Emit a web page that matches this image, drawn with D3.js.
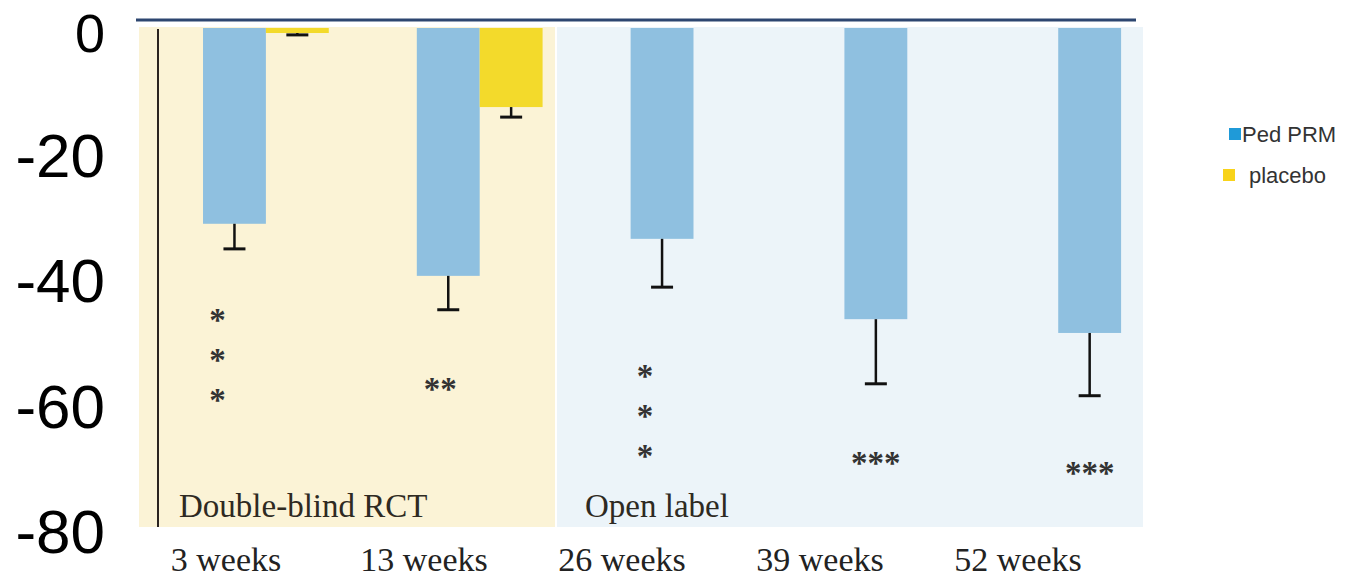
<!DOCTYPE html>
<html>
<head>
<meta charset="utf-8">
<script src="https://cdn.jsdelivr.net/npm/d3@7"></script>
<style>
  html, body { margin: 0; padding: 0; background: #fff; }
  svg { display: block; }
</style>
</head>
<body>
<svg id="chart" width="1355" height="577"></svg>
<script>
// ---- data ----
const categories = ["3 weeks", "13 weeks", "26 weeks", "39 weeks", "52 weeks"];
const seriesNames = ["Ped PRM", "placebo"];
const pedPrmValues = [-31.2, -39.5, -33.6, -46.4, -48.6];
const pedPrmErrors = [4.0, 5.4, 7.7, 10.3, 10.0];
const placeboValues = [-0.8, -12.6, null, null, null];
const placeboErrors = [0.3, 1.6, null, null, null];
const significance = ["***", "**", "***", "***", "***"];
const stackedStars = [true, false, true, false, false];
const yTicks = [0, -20, -40, -60, -80];
const phaseLabels = ["Double-blind RCT", "Open label"];

// ---- layout ----
const svg = d3.select("#chart");
const serif = "'Liberation Serif', 'Times New Roman', serif";
const sans = "'Liberation Sans', Arial, sans-serif";
// vertical gap (px) between the end of an error bar and its star annotation
const starGap = [68, 76, 86, 76, 74];

const y = d3.scaleLinear().domain([0, -80]).range([28, 530]);
const x0 = d3.scaleBand().domain(categories).range([159, 1228]).padding(0);
const x1 = d3.scaleBand().domain(seriesNames).range([0, x0.bandwidth()]).paddingInner(0).paddingOuter(0.7);
const xLabels = d3.scaleBand().domain(categories).range([127, 1117]);

const colors = { "Ped PRM": "#8fc0e0", "placebo": "#f3da2b" };
const legendColors = { "Ped PRM": "#1f9ad8", "placebo": "#f8d31a" };

// phase backgrounds
const plotTop = y(0) - 1, plotBottom = 527;
svg.append("rect").attr("x", 139).attr("y", plotTop).attr("width", 416).attr("height", plotBottom - plotTop)
  .attr("fill", "#fbf3d6");
svg.append("rect").attr("x", 557).attr("y", plotTop).attr("width", 586).attr("height", plotBottom - plotTop)
  .attr("fill", "#ecf4f9");

// top border line
svg.append("line").attr("x1", 136).attr("x2", 1136).attr("y1", y(0) - 8).attr("y2", y(0) - 8)
  .attr("stroke", "#2d4670").attr("stroke-width", 3);

// vertical axis line inside the plot
svg.append("line").attr("x1", 158).attr("x2", 158).attr("y1", y(0) + 1).attr("y2", plotBottom)
  .attr("stroke", "#2a2320").attr("stroke-width", 2);

// bars
const rows = categories.map((c, i) => ({
  cat: c,
  bars: [
    { s: "Ped PRM", v: pedPrmValues[i], e: pedPrmErrors[i] },
    { s: "placebo", v: placeboValues[i], e: placeboErrors[i] }
  ].filter(d => d.v !== null)
}));

const groups = svg.append("g").selectAll("g").data(rows).join("g")
  .attr("transform", d => `translate(${x0(d.cat)},0)`);

groups.selectAll("rect").data(d => d.bars).join("rect")
  .attr("x", d => x1(d.s))
  .attr("y", d => y(0))
  .attr("width", x1.bandwidth())
  .attr("height", d => y(d.v) - y(0))
  .attr("fill", d => colors[d.s]);

// one-sided error bars
const eb = groups.selectAll("g.err").data(d => d.bars).join("g").attr("class", "err");
eb.append("line")
  .attr("x1", d => x1(d.s) + x1.bandwidth() / 2)
  .attr("x2", d => x1(d.s) + x1.bandwidth() / 2)
  .attr("y1", d => y(d.v))
  .attr("y2", d => y(d.v - d.e))
  .attr("stroke", "#111").attr("stroke-width", 2.5);
eb.append("line")
  .attr("x1", d => x1(d.s) + x1.bandwidth() / 2 - 11)
  .attr("x2", d => x1(d.s) + x1.bandwidth() / 2 + 11)
  .attr("y1", d => y(d.v - d.e))
  .attr("y2", d => y(d.v - d.e))
  .attr("stroke", "#111").attr("stroke-width", 3);

// significance stars
rows.forEach((r, i) => {
  const cx = x0(r.cat) + x1("Ped PRM") + x1.bandwidth() / 2;
  const base = y(pedPrmValues[i] - pedPrmErrors[i]) + starGap[i];
  const star = (x, yy, t) => svg.append("text").attr("x", x).attr("y", yy)
    .attr("text-anchor", "middle").attr("font-family", serif).attr("font-size", 33)
    .attr("font-weight", "bold").attr("fill", "#333").text(t);
  if (stackedStars[i]) {
    significance[i].split("").forEach((ch, k) => star(cx - 17, base + k * 40 + 14, ch));
  } else {
    star(cx - (significance[i].length === 2 ? 8 : 0), base + 14, significance[i]);
  }
});

// phase labels
svg.append("text").attr("x", 179).attr("y", 517).attr("font-family", serif).attr("font-size", 33)
  .attr("fill", "#2e2a22").text(phaseLabels[0]);
svg.append("text").attr("x", 585).attr("y", 517).attr("font-family", serif).attr("font-size", 33)
  .attr("fill", "#2e2a22").text(phaseLabels[1]);

// y axis
const yAxis = svg.append("g").attr("transform", "translate(105,0)")
  .call(d3.axisLeft(y).tickValues(yTicks).tickFormat(d => String(d)).tickSize(0).tickPadding(0));
yAxis.select(".domain").remove();
yAxis.selectAll("text").attr("font-family", sans).attr("font-size", 62).attr("fill", "#000")
  .attr("dy", "0.37em");
// the zero label sits against the top edge, so it is set a little smaller
yAxis.selectAll(".tick").filter(d => d === 0).select("text")
  .attr("font-size", 54).attr("dy", "0.43em");

// x axis labels
const xAxis = svg.append("g").attr("transform", "translate(0,547)")
  .call(d3.axisBottom(xLabels).tickSize(0).tickPadding(0));
xAxis.select(".domain").remove();
xAxis.selectAll("text").attr("font-family", serif).attr("font-size", 34).attr("fill", "#222")
  .attr("dy", "0.71em");

// legend
const legend = svg.append("g").attr("font-family", sans).attr("font-size", 22).attr("fill", "#333");
const legendItems = [
  { s: "Ped PRM", sx: 1229, tx: 1242, cy: 134 },
  { s: "placebo", sx: 1223, tx: 1249, cy: 175 }
];
legendItems.forEach(d => {
  legend.append("rect").attr("x", d.sx).attr("y", d.cy - 6).attr("width", 12).attr("height", 12)
    .attr("fill", legendColors[d.s]);
  legend.append("text").attr("x", d.tx).attr("y", d.cy).attr("dy", "0.35em").text(d.s);
});
</script>
</body>
</html>
